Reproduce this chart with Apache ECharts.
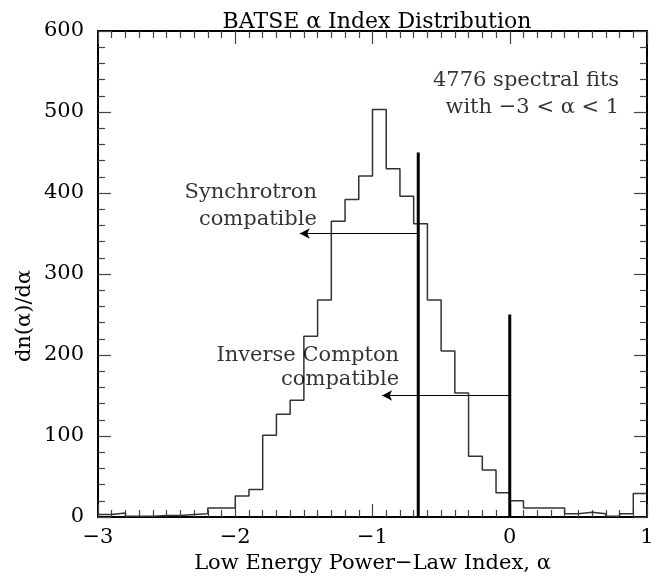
<!DOCTYPE html>
<html>
<head>
<meta charset="utf-8">
<script src="https://cdn.jsdelivr.net/npm/echarts@6/dist/echarts.min.js"></script>
<style>
  html, body { margin: 0; padding: 0; background: #fff; }
  #main { width: 664px; height: 579px; }
</style>
</head>
<body>
<div id="main"></div>
<script>
// bin edges of alpha (width 0.1)
var binEdges = [-3.0, -2.9, -2.8, -2.7, -2.6, -2.5, -2.4, -2.3, -2.2, -2.1,
                -2.0, -1.9, -1.8, -1.7, -1.6, -1.5, -1.4, -1.3, -1.2, -1.1,
                -1.0, -0.9, -0.8, -0.7, -0.6, -0.5, -0.4, -0.3, -0.2, -0.1,
                 0.0,  0.1,  0.2,  0.3,  0.4,  0.5,  0.6,  0.7,  0.8,  0.9, 1.0];
// dn/dalpha in each bin
var binCounts = [3, 5, 1, 1, 2, 2, 3, 4, 11, 11,
                 26, 34, 101, 127, 144, 223, 268, 365, 392, 421,
                 503, 430, 396, 362, 268, 205, 153, 75, 58, 30,
                 20, 11, 11, 11, 4, 6, 4, 1, 4, 29];

// the two thick vertical lines (alpha, top)
var lineAlphas = [-2 / 3, 0];
var lineTops = [450, 250];

// arrows: from, to, level
var arrowFrom = [-2 / 3, 0];
var arrowTo = [-1.53, -0.93];
var arrowLevel = [350, 150];

// text notes
var noteTexts = ['Synchrotron', 'compatible', 'Inverse Compton', 'compatible',
                 '4776 spectral fits', 'with \u22123 < \u03b1 < 1'];
var noteX = [-1.405, -1.405, -0.806, -0.806, 0.797, 0.797];
var noteY = [400, 367, 199, 170, 539, 506];

var FONT = 'DejaVu Serif';
var FS = 21;

var histData = [];
for (var i = 0; i < binCounts.length; i++) {
  histData.push([binEdges[i], binCounts[i]]);
}
histData.push([binEdges[binEdges.length - 1], binCounts[binCounts.length - 1]]);

function minus(v) {
  return v < 0 ? '\u2212' + (-v) : '' + v;
}

var xBase = {
  min: -3, max: 1, interval: 1,
  axisLine: { show: true, onZero: false, lineStyle: { color: '#000', width: 2 } },
  axisTick: { show: true, inside: true, length: 13, lineStyle: { color: '#444', width: 1.2 } },
  minorTick: { show: true, splitNumber: 10, length: 7, lineStyle: { color: '#444', width: 1.2 } },
  splitLine: { show: false }
};
var yBase = {
  min: 0, max: 600, interval: 100,
  axisLine: { show: true, onZero: false, lineStyle: { color: '#000', width: 2 } },
  axisTick: { show: true, inside: true, length: 13, lineStyle: { color: '#444', width: 1.2 } },
  minorTick: { show: true, splitNumber: 5, length: 7, lineStyle: { color: '#444', width: 1.2 } },
  splitLine: { show: false }
};

var series = [];
series.push({
  type: 'line',
  step: 'end',
  data: histData,
  symbol: 'none',
  lineStyle: { color: '#333', width: 1.5 },
  animation: false,
  z: 3
});
for (var k = 0; k < lineAlphas.length; k++) {
  series.push({
    type: 'line',
    data: [[lineAlphas[k], 0], [lineAlphas[k], lineTops[k]]],
    symbol: 'none',
    lineStyle: { color: '#000', width: 3 },
    animation: false,
    z: 4
  });
}
var arrowLines = [];
for (var a = 0; a < arrowFrom.length; a++) {
  arrowLines.push([{ coord: [arrowFrom[a], arrowLevel[a]] }, { coord: [arrowTo[a], arrowLevel[a]] }]);
}
series.push({
  type: 'scatter',
  data: noteTexts.map(function (t, i) { return { value: [noteX[i], noteY[i]], name: t }; }),
  symbolSize: 0,
  label: {
    show: true,
    position: 'left',
    distance: 0,
    formatter: function (p) { return p.name; },
    color: '#000',
    fontFamily: FONT,
    fontSize: FS
  },
  markLine: {
    silent: true,
    symbol: ['none', 'arrow'],
    symbolSize: [8, 10],
    label: { show: false },
    lineStyle: { color: '#000', width: 1, type: 'solid' },
    data: arrowLines
  },
  animation: false,
  z: 5
});

var chart = echarts.init(document.getElementById('main'), null, { renderer: 'canvas' });
chart.setOption({
  backgroundColor: '#fff',
  animation: false,
  title: {
    text: 'BATSE \u03b1 Index Distribution',
    left: 372, textAlign: 'center', top: 6,
    textStyle: { fontFamily: FONT, fontSize: 22, fontWeight: 'normal', color: '#000' }
  },
  grid: { left: 98, right: 17, top: 31, bottom: 56 },
  xAxis: [
    Object.assign({}, xBase, {
      type: 'value', position: 'bottom',
      name: 'Low Energy Power\u2212Law Index, \u03b1',
      nameLocation: 'middle', nameGap: 36,
      nameTextStyle: { fontFamily: FONT, fontSize: FS, color: '#000' },
      axisLabel: { show: true, margin: 10, color: '#000', fontFamily: FONT, fontSize: FS, formatter: minus }
    }),
    Object.assign({}, xBase, { type: 'value', position: 'top', axisLabel: { show: false } })
  ],
  yAxis: [
    Object.assign({}, yBase, {
      type: 'value', position: 'left',
      axisLabel: { show: true, margin: 14, color: '#000', fontFamily: FONT, fontSize: FS, formatter: minus }
    }),
    Object.assign({}, yBase, { type: 'value', position: 'right', axisLabel: { show: false } })
  ],
  graphic: [{
    type: 'text',
    x: 25, y: 316,
    rotation: Math.PI / 2,
    style: {
      text: 'dn(\u03b1)/d\u03b1',
      fontFamily: FONT, fontSize: FS, fill: '#000',
      align: 'center', verticalAlign: 'middle'
    }
  }],
  series: series
});
</script>
</body>
</html>
